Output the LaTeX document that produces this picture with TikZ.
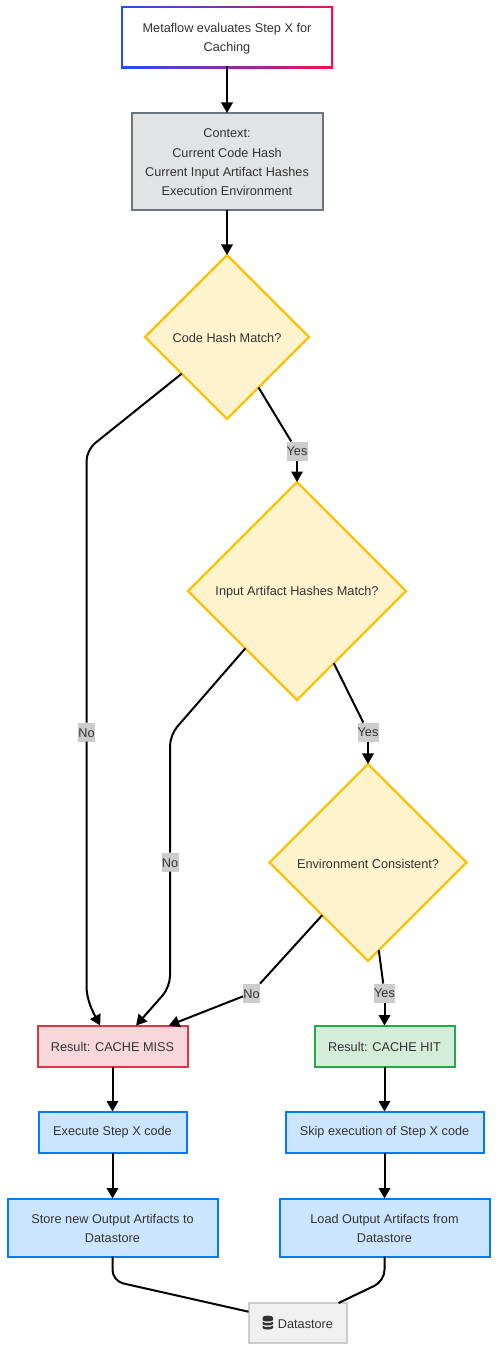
\documentclass[tikz,border=0pt]{standalone}
\usepackage{fontspec}
\setmainfont{Liberation Sans}
\usetikzlibrary{arrows.meta,shapes.geometric,shadows,backgrounds}
\definecolor{ink}{HTML}{333333}
\definecolor{lblbg}{HTML}{CCCCCC}
\definecolor{gblue}{HTML}{1F4FF5}
\definecolor{gred}{HTML}{F01050}
\definecolor{gfill}{HTML}{E2E3E5}
\definecolor{gline}{HTML}{6C757D}
\definecolor{dfill}{HTML}{FFF3CD}
\definecolor{dline}{HTML}{FFC107}
\definecolor{mfill}{HTML}{F8D7DA}
\definecolor{mline}{HTML}{DC3545}
\definecolor{hfill}{HTML}{D4EDDA}
\definecolor{hline}{HTML}{28A745}
\definecolor{bfill}{HTML}{CCE5FF}
\definecolor{bline}{HTML}{007BFF}
\definecolor{sfill}{HTML}{F0F0F0}
\definecolor{sline}{HTML}{CCCCCC}
\newcommand{\lowered}{\rule{0pt}{11.8pt}}
\newcommand{\lowerless}{\rule{0pt}{10.4pt}}
\tikzset{
  x=1pt,y=-1pt,
  every node/.style={font=\fontsize{12.7}{19.1}\selectfont,text=ink,align=center,inner sep=0pt,outer sep=0pt},
  softshadow/.style={drop shadow={shadow xshift=1pt,shadow yshift=-1pt,opacity=.1,fill=black}},
  basebox/.style={shape=rectangle,draw,line width=2pt,softshadow},
  contextbox/.style={basebox,fill=gfill,draw=gline},
  decision/.style={shape=diamond,shape aspect=1,draw=dline,fill=dfill,line width=2.2pt},
  missbox/.style={basebox,fill=mfill,draw=mline},
  hitbox/.style={basebox,fill=hfill,draw=hline},
  actionbox/.style={basebox,fill=bfill,draw=bline},
  storebox/.style={basebox,fill=sfill,draw=sline},
  edgelabel/.style={fill=lblbg,minimum height=19pt},
  link/.style={draw=black,line width=2pt,rounded corners=11pt},
  arrowlink/.style={link,-{Triangle[length=10.5pt,width=11.5pt]}},
}
\begin{document}
\begin{tikzpicture}
\useasboundingbox (0,0) rectangle (500,1359);
% nodes
\node[fill=white,minimum width=208pt,minimum height=58pt] (start) at (227,37.5) {\lowered Metaflow evaluates Step X for\\Caching};
\begin{scope}[on background layer]
  \fill[black,opacity=.1] (122,8) rectangle (334,69.5);
  \shade[left color=gblue,right color=gred] (121,6.5) rectangle (333,68.5);
\end{scope}
\node[contextbox,minimum width=191pt,minimum height=97pt] (context) at (227,161.5) {\lowerless Context:\\Current Code Hash\\Current Input Artifact Hashes\\Execution Environment};
\node[decision,minimum width=164pt,minimum height=164pt] (d1) at (227,337) {\lowered Code Hash Match?};
\node[decision,minimum width=218pt,minimum height=218pt] (d2) at (297,591) {\lowered Input Artifact Hashes Match?};
\node[decision,minimum width=197pt,minimum height=197pt] (d3) at (368,862.5) {\lowered Environment Consistent?};
\node[missbox,minimum width=150pt,minimum height=41pt] (miss) at (112.5,1046) {\lowerless Result: CACHE MISS};
\node[hitbox,minimum width=140pt,minimum height=41pt] (hit) at (384.5,1046) {\lowerless Result: CACHE HIT};
\node[actionbox,minimum width=148pt,minimum height=41pt] (exec) at (112.5,1132) {\lowerless Execute Step X code};
\node[actionbox,minimum width=198pt,minimum height=41pt] (skip) at (384.5,1132) {\lowerless Skip execution of Step X code};
\node[actionbox,minimum width=210pt,minimum height=58pt] (storeout) at (112.5,1227.5) {\lowerless Store new Output Artifacts to\\Datastore};
\node[actionbox,minimum width=210pt,minimum height=58pt] (loadout) at (384.5,1227.5) {\lowerless Load Output Artifacts from\\Datastore};
\node[storebox,minimum width=98pt,minimum height=40pt] (ds) at (297.5,1323) {\lowerless\hspace{16pt}Datastore};
% database icon
\fill[ink] (262.5,1317.5) .. controls (262.5,1315) and (273,1315) .. (273,1317.5) -- (273,1320) .. controls (273,1322) and (262.5,1322) .. (262.5,1320) -- cycle;
\fill[ink] (262.5,1321.5) .. controls (264,1323.5) and (271.5,1323.5) .. (273,1321.5) -- (273,1324) .. controls (273,1326) and (262.5,1326) .. (262.5,1324) -- cycle;
\fill[ink] (262.5,1325.5) .. controls (264,1327.5) and (271.5,1327.5) .. (273,1325.5) -- (273,1328) .. controls (273,1330) and (262.5,1330) .. (262.5,1328) -- cycle;
% edge labels
\node[edgelabel,minimum width=21pt] (yes1) at (297,451) {Yes};
\node[edgelabel,minimum width=21pt] (yes2) at (368,732) {Yes};
\node[edgelabel,minimum width=21pt] (yes3) at (384.5,993) {Yes};
\node[edgelabel,minimum width=17pt] (no1) at (86.5,732) {\lowerless No};
\node[edgelabel,minimum width=17pt] (no2) at (170,862) {\lowerless No};
\node[edgelabel,minimum width=17pt] (no3) at (251.5,993) {\lowerless No};
% bend points
\coordinate (b1) at (86.5,450);
\coordinate (b2) at (86.5,975);
\coordinate (b3) at (170,735);
\coordinate (b4) at (170,987);
\coordinate (b5) at (112.5,1281);
\coordinate (b6) at (384.5,1281);
% connectors
\draw[arrowlink] (start) -- (context);
\draw[arrowlink] (context) -- (d1);
\draw[link] (d1.302.6) -- (yes1);
\draw[arrowlink] (yes1) -- (d2);
\draw[link] (d2.297) -- (yes2);
\draw[arrowlink] (yes2) -- (d3);
\draw[link] (d3.277.8) -- (yes3);
\draw[arrowlink] (yes3) -- (hit);
\draw[link] (d1.219) -- (b1) -- (no1);
\draw[arrowlink] (no1) -- (b2) .. controls (86.5,1000) and (93,1012) .. (miss.121);
\draw[link] (d2.228.6) -- (b3) -- (no2);
\draw[arrowlink] (no2) -- (b4) -- (miss.41);
\draw[link] (d3.229) -- (no3);
\draw[arrowlink] (no3) -- (miss.20);
\draw[arrowlink] (miss) -- (exec);
\draw[arrowlink] (exec) -- (storeout);
\draw[arrowlink] (hit) -- (skip);
\draw[arrowlink] (skip) -- (loadout);
\draw[link] (storeout) -- (b5) -- (ds.167.5);
\draw[link] (loadout) -- (b6) -- (ds.26);
\end{tikzpicture}
\end{document}
